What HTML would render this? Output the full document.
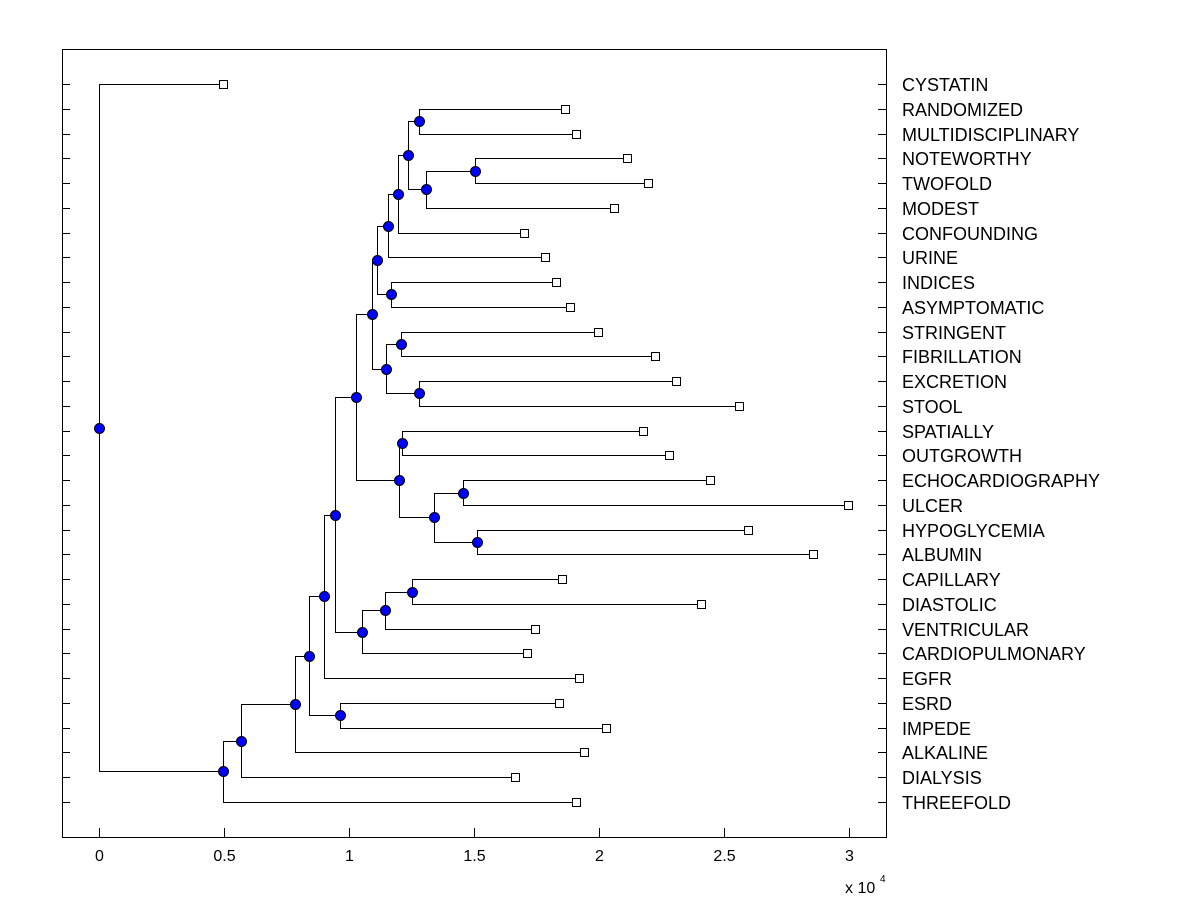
<!DOCTYPE html>
<html><head><meta charset="utf-8"><style>
body{margin:0;background:#fff;}
svg text{font-family:"Liberation Sans",Arial,sans-serif;}
</style></head><body>
<svg id="chart" width="1200" height="900" xmlns="http://www.w3.org/2000/svg">
<rect x="0" y="0" width="1200" height="900" fill="#fff"/>
<g id="marks"></g>
<rect x="62.5" y="49.5" width="824" height="788" fill="none" stroke="#000" stroke-width="1"/>
<text x="845" y="893" font-size="16">x 10</text>
<text x="880" y="882" font-size="10">4</text>
</svg>
<script>
const leafNames=["CYSTATIN","RANDOMIZED","MULTIDISCIPLINARY","NOTEWORTHY","TWOFOLD","MODEST","CONFOUNDING","URINE","INDICES","ASYMPTOMATIC","STRINGENT","FIBRILLATION","EXCRETION","STOOL","SPATIALLY","OUTGROWTH","ECHOCARDIOGRAPHY","ULCER","HYPOGLYCEMIA","ALBUMIN","CAPILLARY","DIASTOLIC","VENTRICULAR","CARDIOPULMONARY","EGFR","ESRD","IMPEDE","ALKALINE","DIALYSIS","THREEFOLD"];
const leafValues=[4960,18640,19080,21120,21960,20600,17000,17840,18280,18840,19960,22240,23080,25600,21760,22800,24440,29960,25960,28560,18520,24080,17440,17120,19200,18400,20280,19400,16640,19080];
const mergeLeft=[1,3,31,30,33,34,8,35,10,12,38,37,14,16,18,43,42,41,20,48,49,47,51,25,52,54,55,56,0];
const mergeRight=[2,4,5,32,6,7,9,36,11,13,39,40,15,17,19,44,45,46,21,22,23,50,24,26,53,27,28,29,57];
const mergeValues=[12800,15040,13080,12360,11960,11560,11680,11120,12080,12800,11480,10920,12120,14560,15120,13400,12000,10280,12520,11440,10520,9440,9000,9640,8400,7840,5680,4960,0];
const xTicks=[0,5000,10000,15000,20000,25000,30000];
const xTickLabels=["0","0.5","1","1.5","2","2.5","3"];

const NS="http://www.w3.org/2000/svg";
const g=document.getElementById('marks');
const xs=v=>99+v*0.025;
const ys=i=>84+i*(718/29);
function mk(t,a){const e=document.createElementNS(NS,t);for(const k in a)e.setAttribute(k,a[k]);g.appendChild(e);return e;}
const N=leafNames.length;
const px=[],py=[];
leafNames.forEach((n,i)=>{px[i]=xs(leafValues[i]);py[i]=ys(i);});
mergeValues.forEach((v,k)=>{const id=N+k;px[id]=xs(v);py[id]=(py[mergeLeft[k]]+py[mergeRight[k]])/2;});
leafNames.forEach((n,i)=>{
  const y=Math.round(ys(i))+0.5;
  const t1=mk('line',{x1:62,y1:y,x2:70,y2:y,stroke:'#000'});
  
  
  const t2=mk('line',{x1:878,y1:y,x2:886,y2:y,stroke:'#000'});
  
  
  const tx=mk('text',{x:902,y:y+6.5,'font-size':18});
  tx.textContent=n;
  
  
});
xTicks.forEach((v,i)=>{
  const x=Math.round(xs(v))+0.5;
  const t=mk('line',{x1:x,y1:837,x2:x,y2:828,stroke:'#000'});
  
  
  const tx=mk('text',{x:x,y:861,'font-size':16,'text-anchor':'middle'});
  tx.textContent=xTickLabels[i];
  
  
});
mergeValues.forEach((v,k)=>{
  const id=N+k,a=mergeLeft[k],b=mergeRight[k];
  const x=Math.round(px[id])+0.5;
  const d=`M${Math.round(px[a])},${Math.round(py[a])+0.5}H${x}V${Math.round(py[b])+0.5}H${Math.round(px[b])}`;
  const p=mk('path',{d:d,fill:'none',stroke:'#000','stroke-width':1});
  
  
});
leafNames.forEach((n,i)=>{
  const r=mk('rect',{x:Math.round(px[i])-3.5,y:Math.round(py[i])-3.5,width:8,height:8,fill:'#fff',stroke:'#000'});
  
  
});
mergeValues.forEach((v,k)=>{
  const id=N+k;
  const c=mk('circle',{cx:Math.round(px[id])+0.5,cy:Math.round(py[id])+0.5,r:5,fill:'#0000ff',stroke:'#000','stroke-width':1});
  
  
});
</script>
</body></html>
